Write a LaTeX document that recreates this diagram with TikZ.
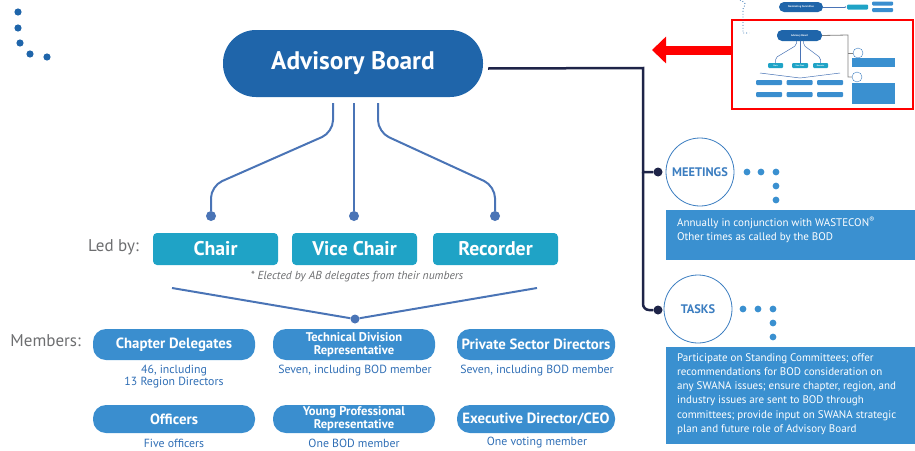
\documentclass[tikz,border=0pt]{standalone}
\usepackage{fontspec}
\setmainfont{PT Sans}
\usetikzlibrary{arrows.meta}
\definecolor{abblue}{HTML}{1F65AA}
\definecolor{ledteal}{HTML}{1FA3C6}
\definecolor{memblue}{HTML}{3A8ECF}
\definecolor{linkblue}{HTML}{4A74B6}
\definecolor{subblue}{HTML}{2F6EB5}
\definecolor{navy}{HTML}{1E2448}
\definecolor{graytxt}{HTML}{6D6E70}
\definecolor{boxblue}{HTML}{3A90D0}
\definecolor{ringblue}{HTML}{3B7DC0}
\begin{document}
\begin{tikzpicture}[x=1pt,y=-1pt,
	abbox/.style={rectangle,rounded corners=33pt,fill=abblue,text=white,minimum width=260pt,minimum height=67pt,font=\bfseries\fontsize{25.4}{25.4}\selectfont},
	ledbox/.style={rectangle,rounded corners=4pt,fill=ledteal,text=white,minimum width=125pt,minimum height=32pt,font=\bfseries\fontsize{19.8}{19.8}\selectfont},
	membox/.style={rectangle,rounded corners=13pt,fill=memblue,text=white,minimum width=162pt,minimum height=31pt,inner sep=0pt,align=center,font=\bfseries\fontsize{14.8}{14.8}\selectfont},
	twoline/.style={font=\bfseries\fontsize{12.6}{12.8}\selectfont},
	subtxt/.style={text=subblue,align=center,inner sep=0pt,font=\fontsize{11.8}{12.3}\selectfont},
	lbltxt/.style={text=graytxt,anchor=east,inner sep=0pt,font=\fontsize{17}{17}\selectfont},
	link/.style={linkblue,line width=2pt},
	dot/.style={circle,fill=linkblue,inner sep=0pt,minimum size=10pt},
	ring/.style={circle,draw=ringblue,line width=0.8pt,minimum size=68pt,inner sep=0pt,text=ringblue,font=\bfseries\fontsize{12.4}{12.4}\selectfont},
	ndot/.style={circle,fill=navy,inner sep=0pt,minimum size=9pt},
	infobox/.style={rectangle,fill=boxblue,minimum width=249pt,inner sep=0pt},
	infotxt/.style={text=white,anchor=north west,align=left,inner sep=0pt,font=\fontsize{11}{14.3}\selectfont},
	tpill/.style={rectangle,rounded corners=5pt,fill=abblue,text=white,inner sep=0pt,font=\bfseries\fontsize{2.6}{3}\selectfont},
	tbox/.style={rectangle,rounded corners=1pt,inner sep=0pt,text=white,font=\bfseries\fontsize{2}{2}\selectfont},
	tlink/.style={linkblue,line width=0.5pt}]
	\useasboundingbox (0,0) rectangle (915,450);
	%corner dots
	\foreach \p in {(18,12),(18,28),(20,43),(30,54),(47,57)}
		\fill[abblue] \p circle (3.6pt);

	%advisory board and officers
	\node[abbox] (ab) at (353,63.5) {Advisory Board};
	\node[dot] (dchair) at (211,216) {};
	\node[dot] (dvchair) at (354,216) {};
	\node[dot] (drec) at (495,216) {};
	\draw[link,rounded corners=12pt] ([xshift=-20pt,yshift=-6pt]ab.south) -- ++(0,29) -- ([yshift=30pt]dchair.center) -- (dchair);
	\draw[link] (ab.south -| dvchair) ++(0,6) -- (dvchair);
	\draw[link,rounded corners=12pt] ([xshift=25pt,yshift=-6pt]ab.south) -- ++(0,29) -- ([yshift=30pt]drec.center) -- (drec);

	\node[lbltxt] (ledby) at (139,247) {Led by:};
	\node[ledbox] (chair) at (215.5,249) {Chair};
	\node[ledbox] (vchair) at (354.5,249) {Vice Chair};
	\node[ledbox] (recorder) at (495.5,249) {Recorder};
	\node[text=graytxt,font=\itshape\fontsize{11.6}{11.6}\selectfont] (note) at (357,277) {* Elected by AB delegates from their numbers};

	%members
	\coordinate (cl) at (172,288);
	\coordinate (cr) at (537,288);
	\node[dot,minimum size=9pt] (dmem) at (355,319) {};
	\draw[link] (cl) -- (dmem) -- (cr);

	\node[lbltxt,font=\fontsize{17}{17}\selectfont] (members) at (81,341) {Members:};
	\node[membox] (chapter) at (174,344.5) {Chapter Delegates};
	\node[membox,twoline] (techdiv) at (354,344.5) {Technical Division\\Representative};
	\node[membox,minimum width=158pt] (private) at (536,344.5) {Private Sector Directors};
	\node[membox,minimum height=28pt] (officers) at (174,419) {Officers};
	\node[membox,minimum height=28pt,twoline] (youngpro) at (354,419) {Young Professional\\Representative};
	\node[membox,minimum height=28pt,minimum width=158pt] (execdir) at (536,419) {Executive Director/CEO};

	\node[subtxt] (chaptersub) at (174,376.5) {46, including\\13 Region Directors};
	\node[subtxt] (techdivsub) at (355,371) {Seven, including BOD member};
	\node[subtxt] (privatesub) at (537,371) {Seven, including BOD member};
	\node[subtxt] (officerssub) at (174,443) {Five officers};
	\node[subtxt] (youngprosub) at (354,443) {One BOD member};
	\node[subtxt] (execdirsub) at (537,443) {One voting member};

	%meetings and tasks
	\node[ring] (meet) at (700,172) {MEETINGS};
	\node[ring] (tasks) at (698,309) {TASKS};
	\node[ndot] (mdot) at (658,172) {};
	\node[ndot] (tdot) at (658,310) {};
	\coordinate (trunk) at (643,68);
	\draw[navy,line width=2.5pt] ([xshift=5pt,yshift=-5pt]ab.east) -- (trunk) -- (trunk |- mdot) -- (mdot);
	\draw[navy,line width=2.5pt,rounded corners=6pt] (trunk |- mdot) -- (trunk |- tdot) -- (tdot);
	\foreach \x in {747,761,776}
		\fill[boxblue] (\x,172) circle (3.4pt);
	\foreach \y in {186,200}
		\fill[boxblue] (776,\y) circle (3.4pt);
	\foreach \x in {743,758,773}
		\fill[boxblue] (\x,309) circle (3.4pt);
	\foreach \y in {323,337}
		\fill[boxblue] (773,\y) circle (3.4pt);

	\node[infobox,minimum height=50pt] (meetbox) at (790.5,235) {};
	\node[infotxt] (meettxt) at (677,216.5) {Annually in conjunction with WASTECON\textsuperscript{®}\\Other times as called by the BOD};
	\node[infobox,minimum height=97pt] (taskbox) at (790.5,395.5) {};
	\node[infotxt] (tasktxt) at (677,353) {Participate on Standing Committees; offer\\recommendations for BOD consideration on\\any SWANA issues; ensure chapter, region, and\\industry issues are sent to BOD through\\committees; provide input on SWANA strategic\\plan and future role of Advisory Board};

	%thumbnail of the chart
	\node[draw=red,line width=1.3pt,minimum width=181pt,minimum height=89pt,inner sep=0pt] (thumb) at (822.5,64.5) {};
	\coordinate (arrtip) at (652,50);
	\draw[red,line width=9pt,-{Triangle[length=14pt,width=26pt]}] (thumb.west |- arrtip) -- (arrtip);

	\draw[abblue,dotted,line width=0.8pt] (740,0) .. controls (746,3) .. (743,9) -- (743,33) -- (749,33);
	\node[tpill,minimum width=44pt,minimum height=10pt] (tnom) at (801,7) {Nominating Committee};
	\node[tbox,fill=ledteal,minimum width=21pt,minimum height=5pt] (tpast) at (857.5,7) {};
	\node[tbox,fill=memblue,minimum width=21pt,minimum height=4pt] (tv1) at (882.5,3.5) {};
	\node[tbox,fill=memblue,minimum width=21pt,minimum height=4pt] (tv2) at (882.5,10) {};
	\draw[tlink,-{Latex[length=2pt]}] (tnom) -- (tpast);

	\node[tpill,minimum width=45pt,minimum height=11pt] (tab) at (799.5,35.5) {Advisory Board};
	\node[tbox,fill=ledteal,minimum width=15pt,minimum height=5pt] (tchair) at (775.5,65.5) {Chair};
	\node[tbox,fill=ledteal,minimum width=16pt,minimum height=5pt] (tvchair) at (800,65.5) {Vice Chair};
	\node[tbox,fill=ledteal,minimum width=15pt,minimum height=5pt] (trec) at (820.5,65.5) {Recorder};
	\draw[tlink,rounded corners=2pt] ([xshift=-3pt]tab.south) -- ++(0,4) -- ([yshift=5pt]tchair.north) -- (tchair.north);
	\draw[tlink] (tab.south -| tvchair) -- (tvchair.north);
	\draw[tlink,rounded corners=2pt] ([xshift=4pt]tab.south) -- ++(0,4) -- ([yshift=5pt]trec.north) -- (trec.north);
	\coordinate (tcl) at (760,73);
	\coordinate (tcr) at (840,73);
	\coordinate (tcm) at (800,78);
	\draw[tlink] (tcl) -- (tcm) -- (tcr);
	\foreach \x/\n in {769/a,799.5/b,830/c}{
		\node[tbox,fill=memblue,minimum width=26pt,minimum height=5pt] (tm1\n) at (\x,82.5) {};
		\node[tbox,fill=memblue,minimum width=26pt,minimum height=5pt] (tm2\n) at (\x,94.5) {};
	}
	\node[circle,draw=ringblue,line width=0.4pt,minimum size=10pt,inner sep=0pt] (tmeet) at (858,53) {};
	\node[circle,draw=ringblue,line width=0.4pt,minimum size=10pt,inner sep=0pt] (ttasks) at (857,77) {};
	\coordinate (ttrunk) at (848,35);
	\draw[gray,line width=0.8pt] (tab.east) -- (ttrunk) -- (ttrunk |- ttasks) -- (ttasks.west);
	\draw[gray,line width=0.8pt] (ttrunk |- tmeet) -- (tmeet.west);
	\node[tbox,fill=boxblue,minimum width=43pt,minimum height=9pt,rounded corners=0pt] (tmeetbox) at (873.5,62.5) {};
	\node[tbox,fill=boxblue,minimum width=43pt,minimum height=21pt,rounded corners=0pt] (ttaskbox) at (873.5,93.5) {};
\end{tikzpicture}
\end{document}
